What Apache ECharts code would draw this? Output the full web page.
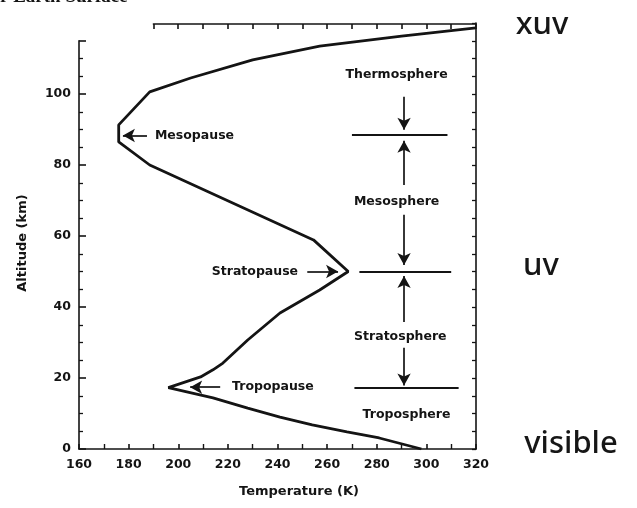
<!DOCTYPE html>
<html><head><meta charset="utf-8">
<script src="https://cdn.jsdelivr.net/npm/echarts@6/dist/echarts.min.js"></script>
<style>html,body{margin:0;padding:0;background:#fff}#c{width:637px;height:508px}</style>
</head><body><div id="c"></div>
<script>
// Temperature profile (K) vs altitude (km)
const temps = [298, 281, 268, 254, 241, 228, 214, 196, 209, 214, 218, 228, 241, 257, 268.5, 254.5, 188.5, 176, 176, 188.5, 205, 230, 257, 290, 320];
const alts  = [0, 3.1, 4.8, 6.8, 9, 11.5, 14.4, 17.3, 20.3, 22.3, 24.2, 30.7, 38.3, 44.8, 50, 58.9, 80, 86.5, 91.3, 100.6, 104.5, 109.6, 113.5, 116.3, 118.6];

// Layer names and their label positions
const layerNames = ['Thermosphere', 'Mesosphere', 'Stratosphere', 'Troposphere'];
const layerLabelT = [288, 288, 289.5, 292];
const layerLabelAlt = [105.4, 69.6, 31.5, 9.6];

// Layer boundaries
const boundaryAlt = [88.5, 50, 17.2];
const boundaryFrom = [270, 273, 271];
const boundaryTo = [308.5, 310, 313];

// Vertical arrows between layers
const arrowT = 291;
const arrowFromAlt = [99.2, 74.4, 66, 35.8, 28.5];
const arrowToAlt = [89.9, 86.8, 51.8, 48.7, 17.9];

// Pause labels
const pauseNames = ['Mesopause', 'Stratopause', 'Tropopause'];
const pauseAlt = [88.3, 50, 17.4];
const pauseLabelT = [190.6, 248.3, 221.7];
const pauseLabelSide = ['right', 'left', 'right'];
const pauseArrowFrom = [187.4, 252, 216.9];
const pauseArrowTo = [177.7, 264.4, 204.8];

// Axis labels and side notes
const xName = 'Temperature (K)';
const yName = 'Altitude (km)';
const sideNotes = ['xuv', 'uv', 'visible'];
const titleText = 'r Earth Surface';

const FONT = 'DejaVu Sans';
const INK = '#141414';

const profile = temps.map((t, i) => [t, alts[i]]);

const mlData = [];
boundaryAlt.forEach((a, i) => mlData.push([
  {coord: [boundaryFrom[i], a], symbol: 'none', lineStyle: {width: 1.8}},
  {coord: [boundaryTo[i], a], symbol: 'none'}
]));
arrowFromAlt.forEach((a, i) => mlData.push([
  {coord: [arrowT, a], symbol: 'none'},
  {coord: [arrowT, arrowToAlt[i]], symbol: 'arrow'}
]));
pauseAlt.forEach((a, i) => mlData.push([
  {coord: [pauseArrowFrom[i], a], symbol: 'none'},
  {coord: [pauseArrowTo[i], a], symbol: 'arrow'}
]));

const mpData = [];
layerNames.forEach((n, i) => mpData.push({
  name: n, coord: [layerLabelT[i], layerLabelAlt[i]], label: {position: 'inside'}
}));
pauseNames.forEach((n, i) => mpData.push({
  name: n, coord: [pauseLabelT[i], pauseAlt[i]], label: {position: pauseLabelSide[i], distance: 0}
}));

const tickFont = {color: INK, fontFamily: FONT, fontWeight: 'bold', fontSize: 12.5};
const lineStyleAxis = {color: INK, width: 1.6};

const chart = echarts.init(document.getElementById('c'), null, {renderer: 'canvas'});
chart.setOption({
  animation: false,
  backgroundColor: '#fff',
  grid: [
    {left: 79, right: 161, top: 23, bottom: 59},
    {left: 79, width: 1, top: 40.75, bottom: 59},
    {left: 153.4, right: 161, top: 23, height: 1}
  ],
  xAxis: [
    {type: 'value', gridIndex: 0, min: 160, max: 320, interval: 20, position: 'bottom',
     axisLine: {show: true, lineStyle: lineStyleAxis},
     axisTick: {show: true, inside: true, length: 5, lineStyle: lineStyleAxis},
     minorTick: {show: true, splitNumber: 2, length: 5, lineStyle: {color: INK, width: 1.4}},
     axisLabel: Object.assign({margin: 9}, tickFont),
     splitLine: {show: false}},
    {type: 'value', gridIndex: 1, show: false, min: 0, max: 1},
    {type: 'value', gridIndex: 2, min: 190, max: 320, interval: 10, position: 'top',
     axisLine: {show: true, lineStyle: lineStyleAxis},
     axisTick: {show: true, inside: true, length: 5, lineStyle: lineStyleAxis},
     axisLabel: {show: false}, splitLine: {show: false}}
  ],
  yAxis: [
    {type: 'value', gridIndex: 0, min: 0, max: 120, interval: 5, position: 'right',
     axisLine: {show: true, lineStyle: lineStyleAxis},
     axisTick: {show: true, inside: true, length: 4, lineStyle: {color: INK, width: 1.3}},
     axisLabel: {show: false}, splitLine: {show: false}},
    {type: 'value', gridIndex: 1, min: 0, max: 115, interval: 20, position: 'left',
     axisLine: {show: true, lineStyle: lineStyleAxis},
     axisTick: {show: true, inside: true, length: 7, lineStyle: lineStyleAxis},
     minorTick: {show: true, splitNumber: 4, length: 4, lineStyle: {color: INK, width: 1.3}},
     axisLabel: Object.assign({margin: 8, formatter: v => (v <= 100 ? String(v) : '')}, tickFont),
     splitLine: {show: false}},
    {type: 'value', gridIndex: 2, show: false, min: 0, max: 1}
  ],
  series: [{
    type: 'line', xAxisIndex: 0, yAxisIndex: 0,
    data: profile, showSymbol: false, symbol: 'none', smooth: false,
    lineStyle: {color: INK, width: 2.8}, z: 3,
    markLine: {
      silent: true, animation: false, symbolSize: [10, 12],
      label: {show: false},
      lineStyle: {color: INK, width: 1.7, type: 'solid'},
      emphasis: {disabled: true},
      data: mlData
    },
    markPoint: {
      silent: true, animation: false, symbol: 'circle', symbolSize: 0,
      itemStyle: {color: 'rgba(0,0,0,0)'},
      label: {show: true, formatter: '{b}', color: INK, fontFamily: FONT, fontWeight: 'bold', fontSize: 12.5},
      data: mpData
    }
  }],
  graphic: [
    {type: 'text', x: 299, y: 492, style: {text: xName, fill: INK, font: 'bold 13px "DejaVu Sans"', align: 'center', verticalAlign: 'middle'}},
    {type: 'text', x: 23, y: 243, rotation: Math.PI / 2, style: {text: yName, fill: INK, font: 'bold 13px "DejaVu Sans"', align: 'center', verticalAlign: 'middle'}},
    {type: 'text', x: 542, y: 25, style: {text: sideNotes[0], fill: '#161616', font: '500 31px "Noto Sans"', align: 'center', verticalAlign: 'middle'}},
    {type: 'text', x: 541, y: 266, style: {text: sideNotes[1], fill: '#161616', font: '500 31px "Noto Sans"', align: 'center', verticalAlign: 'middle'}},
    {type: 'text', x: 571, y: 444, style: {text: sideNotes[2], fill: '#161616', font: '500 31px "Noto Sans"', align: 'center', verticalAlign: 'middle'}},
    {type: 'text', x: 0, y: -12, style: {text: titleText, fill: INK, font: 'bold 19px "Liberation Serif"', align: 'left', verticalAlign: 'top'}}
  ]
});
</script>
</body></html>
